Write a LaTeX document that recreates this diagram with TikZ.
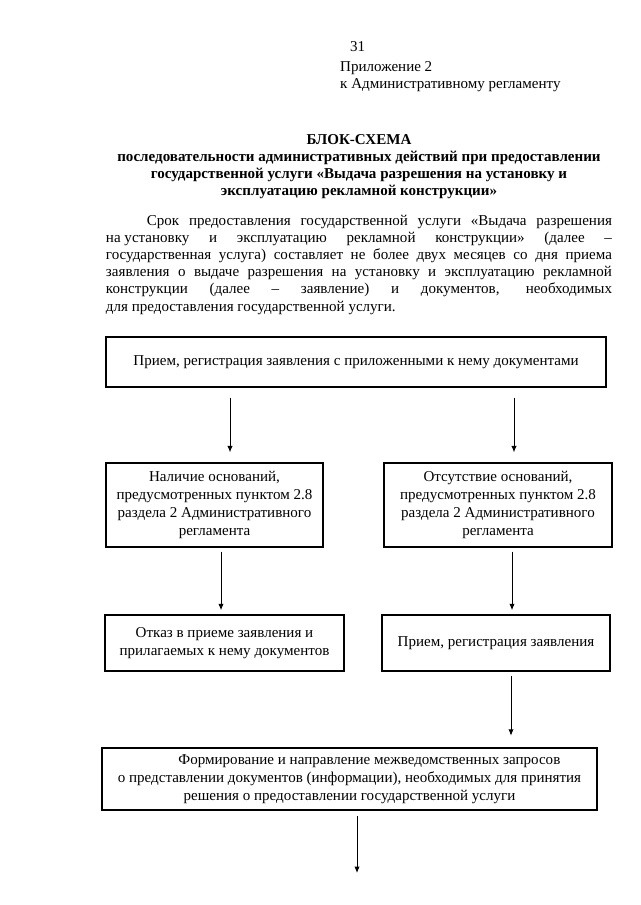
\documentclass[tikz,border=0pt]{standalone}
\usepackage{fontspec}
\setmainfont{Liberation Serif}
\usetikzlibrary{arrows.meta}
\tikzstyle{plain}=[inner sep=0pt, font=\fontsize{14}{16}\selectfont]
\tikzstyle{stage}=[draw, line width=1.8pt, align=center, inner sep=2pt, font=\fontsize{14}{16.5}\selectfont]
\tikzstyle{flow}=[line width=0.9pt, -{Latex[length=6pt, width=5pt]}]

\begin{document}
\begin{tikzpicture}[x=0.9302pt, y=-0.9302pt]
        \useasboundingbox (0,0) rectangle (640,905);
        \node[plain, anchor=base west] (pnum) at (350,52) {31};
        \node[plain, anchor=base west] (annex) at (340,72) {Приложение 2};
        \node[plain, anchor=base west] (annexreg) at (340,89) {к Административному регламенту};
        \node[plain, align=center, font=\bfseries\fontsize{14}{15.8}\selectfont] (title) at (359,167) {БЛОК-СХЕМА\\
            последовательности административных действий при предоставлении\\
            государственной услуги «Выдача разрешения на установку и\\
            эксплуатацию рекламной конструкции»};
        \node[plain, text width=470.7pt, align=justify] (term) at (359,264.5) {\hyphenpenalty=10000\exhyphenpenalty=10000
            \hspace*{38pt}Срок предоставления государственной услуги «Выдача разрешения\linebreak
            \mbox{на установку} и эксплуатацию рекламной конструкции» (далее –\linebreak
            государственная услуга) составляет не более двух месяцев со дня приема\linebreak
            заявления о выдаче разрешения на установку и эксплуатацию рекламной\linebreak
            конструкции (далее – заявление) и документов, необходимых\linebreak
            для предоставления государственной услуги.};
        \node[stage, minimum width=465.1pt, minimum height=46.5pt] (recv) at (356,362) {Прием, регистрация заявления с приложенными к нему документами};
        \node[stage, minimum width=201.9pt, minimum height=78.1pt] (yes) at (214.5,505) {Наличие оснований,\\ предусмотренных пунктом 2.8\\ раздела 2 Административного\\ регламента};
        \node[stage, minimum width=212.1pt, minimum height=78.1pt] (no) at (498,505) {Отсутствие оснований,\\ предусмотренных пунктом 2.8\\ раздела 2 Административного\\ регламента};
        \node[stage, minimum width=222.3pt, minimum height=52.1pt] (refuse) at (224.5,643) {Отказ в приеме заявления и\\ прилагаемых к нему документов};
        \node[stage, minimum width=212.1pt, minimum height=52.1pt] (accept) at (496,643) {Прием, регистрация заявления};
        \node[stage, minimum width=460.4pt, minimum height=57.7pt] (query) at (349.5,779) {\hspace*{37pt}Формирование и направление межведомственных запросов\\ о представлении документов (информации), необходимых для принятия\\ решения о предоставлении государственной услуги};
        \coordinate (next) at (357,873) {};
        \draw[flow, shorten <=9pt, shorten >=9pt] (recv.south -| 230,0) -- (yes.north -| 230,0);
        \draw[flow, shorten <=9pt, shorten >=9pt] (recv.south -| 514,0) -- (no.north -| 514,0);
        \draw[flow, shorten <=3.5pt, shorten >=3.5pt] (yes.south -| 221,0) -- (refuse.north -| 221,0);
        \draw[flow, shorten <=3.5pt, shorten >=3.5pt] (no.south -| 512,0) -- (accept.north -| 512,0);
        \draw[flow, shorten <=3.5pt, shorten >=10.5pt] (accept.south -| 511,0) -- (query.north -| 511,0);
        \draw[flow, shorten <=4.5pt] (query.south -| next) -- (next);
    \end{tikzpicture}
\end{document}
